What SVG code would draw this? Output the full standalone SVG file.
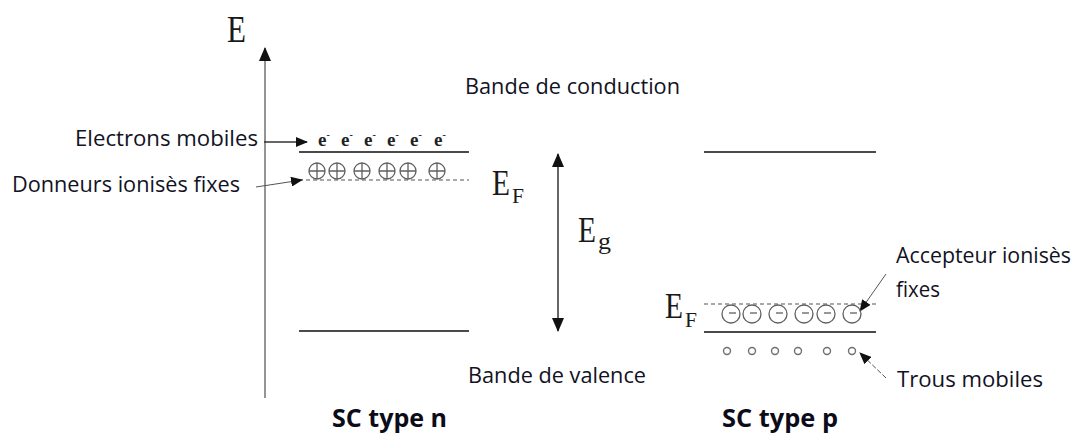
<svg xmlns="http://www.w3.org/2000/svg" width="1078" height="437" viewBox="0 0 1078 437">
  <style>
    .lbl { font-family: "Open Sans", "Noto Sans", "Liberation Sans", sans-serif; font-size: 22px; fill: #121224; }
    .title { font-family: "Open Sans", "Noto Sans", "Liberation Sans", sans-serif; font-size: 25px; font-weight: bold; fill: #0c0c18; }
    .sym { font-family: "Liberation Serif", "DejaVu Serif", serif; fill: #1a1a1a; }
    .band { stroke: #4a4a4a; stroke-width: 2; fill: none; }
    .dash { stroke: #555; stroke-width: 1.2; stroke-dasharray: 4 3; fill: none; }
    .axis { stroke: #707070; stroke-width: 1.5; fill: none; }
    .arrow { stroke: #333; stroke-width: 1.5; fill: none; }
    .thin { stroke: #555; stroke-width: 1; fill: none; }
    .ion { stroke: #606060; stroke-width: 1.3; fill: none; }
    .hole { stroke: #707070; stroke-width: 1.4; fill: none; }
    .el { font-family: "Liberation Serif", "DejaVu Serif", serif; font-size: 19px; font-weight: bold; fill: #222; text-anchor: middle; }
  </style>
  <defs>
    <marker id="head" viewBox="0 0 14 12" refX="13" refY="6" markerWidth="14" markerHeight="12" markerUnits="userSpaceOnUse" orient="auto-start-reverse">
      <path d="M0,0 L14,6 L0,12 z" fill="#111"/>
    </marker>
    <marker id="headS" viewBox="0 0 12 10" refX="11" refY="5" markerWidth="12" markerHeight="10" markerUnits="userSpaceOnUse" orient="auto">
      <path d="M0,0 L12,5 L0,10 z" fill="#111"/>
    </marker>
  </defs>

  <rect width="1078" height="437" fill="#ffffff"/>

  <!-- energy axis, band edges and pointer arrows -->
  <g id="connectors">
    <line class="axis" x1="265" y1="398" x2="265" y2="48" marker-end="url(#head)"/>
    <!-- n-type bands -->
    <line class="band" x1="299" y1="152" x2="469" y2="152"/>
    <line class="dash" x1="299" y1="180" x2="469" y2="180"/>
    <line class="band" x1="299" y1="331" x2="469" y2="331"/>
    <!-- p-type bands -->
    <line class="band" x1="704" y1="152" x2="876" y2="152"/>
    <line class="dash" x1="704" y1="304" x2="876" y2="304"/>
    <line class="band" x1="704" y1="332" x2="876" y2="332"/>
    <!-- gap arrow -->
    <line class="arrow" x1="558" y1="154" x2="558" y2="331" marker-start="url(#head)" marker-end="url(#head)"/>
    <!-- pointers -->
    <line class="arrow" x1="264" y1="142" x2="307" y2="142" marker-end="url(#headS)"/>
    <line class="thin" x1="256" y1="187" x2="302" y2="180" marker-end="url(#headS)"/>
    <line class="thin" x1="886" y1="274" x2="860" y2="311" marker-end="url(#headS)"/>
    <line class="thin" x1="886" y1="378" x2="860" y2="353" stroke-dasharray="5 2" marker-end="url(#headS)"/>
  </g>

  <!-- axis label -->
  <g id="axis-label">
    <text class="sym" x="227" y="42" font-size="38" textLength="19" lengthAdjust="spacingAndGlyphs">E</text>
  </g>

  <!-- mobile electrons in the n-type conduction band -->
  <g id="electrons">
    <text class="el" x="324" y="146">e<tspan font-size="10" dy="-8">-</tspan></text>
    <text class="el" x="347" y="146">e<tspan font-size="10" dy="-8">-</tspan></text>
    <text class="el" x="370" y="146">e<tspan font-size="10" dy="-8">-</tspan></text>
    <text class="el" x="393" y="146">e<tspan font-size="10" dy="-8">-</tspan></text>
    <text class="el" x="416" y="146">e<tspan font-size="10" dy="-8">-</tspan></text>
    <text class="el" x="440" y="146">e<tspan font-size="10" dy="-8">-</tspan></text>
  </g>

  <!-- fixed ionised donors -->
  <g id="donors" class="ion">
    <circle cx="317" cy="171" r="8"/><path d="M309,171 H325 M317,163 V179"/>
    <circle cx="337" cy="171" r="8"/><path d="M329,171 H345 M337,163 V179"/>
    <circle cx="362" cy="171" r="8"/><path d="M354,171 H370 M362,163 V179"/>
    <circle cx="387" cy="171" r="8"/><path d="M379,171 H395 M387,163 V179"/>
    <circle cx="408" cy="171" r="8"/><path d="M400,171 H416 M408,163 V179"/>
    <circle cx="437" cy="171" r="8"/><path d="M429,171 H445 M437,163 V179"/>
  </g>

  <!-- fixed ionised acceptors -->
  <g id="acceptors" class="ion">
    <circle cx="731" cy="314" r="9"/><path d="M729,313 H736"/>
    <circle cx="752" cy="314" r="9"/><path d="M750,313 H757"/>
    <circle cx="778" cy="314" r="9"/><path d="M776,313 H783"/>
    <circle cx="804" cy="314" r="9"/><path d="M802,313 H809"/>
    <circle cx="826" cy="314" r="9"/><path d="M824,313 H831"/>
    <circle cx="852" cy="314" r="9"/><path d="M850,313 H857"/>
  </g>

  <!-- mobile holes in the p-type valence band -->
  <g id="holes" class="hole">
    <circle cx="727" cy="351" r="3.5"/>
    <circle cx="752" cy="351" r="3.5"/>
    <circle cx="775" cy="351" r="3.5"/>
    <circle cx="798" cy="351" r="3.5"/>
    <circle cx="827" cy="351" r="3.5"/>
    <circle cx="852" cy="351" r="3.5"/>
  </g>

  <!-- Fermi level and gap symbols -->
  <g id="ef-n">
    <text class="sym" x="492" y="195" font-size="36" textLength="18" lengthAdjust="spacingAndGlyphs">E</text>
    <text class="sym" x="512" y="203" font-size="22" textLength="12" lengthAdjust="spacingAndGlyphs">F</text>
  </g>
  <g id="eg">
    <text class="sym" x="578" y="242" font-size="36" textLength="18" lengthAdjust="spacingAndGlyphs">E</text>
    <text class="sym" x="598" y="249" font-size="24" textLength="13" lengthAdjust="spacingAndGlyphs">g</text>
  </g>
  <g id="ef-p">
    <text class="sym" x="665" y="318" font-size="36" textLength="18" lengthAdjust="spacingAndGlyphs">E</text>
    <text class="sym" x="685" y="327" font-size="22" textLength="12" lengthAdjust="spacingAndGlyphs">F</text>
  </g>

  <!-- text labels -->
  <g id="label-conduction"><text class="lbl" x="465" y="94" textLength="215" lengthAdjust="spacingAndGlyphs">Bande de conduction</text></g>
  <g id="label-valence"><text class="lbl" x="468" y="383" textLength="178" lengthAdjust="spacingAndGlyphs">Bande de valence</text></g>
  <g id="label-electrons"><text class="lbl" x="75" y="146" textLength="183" lengthAdjust="spacingAndGlyphs">Electrons mobiles</text></g>
  <g id="label-donors"><text class="lbl" x="12" y="192" textLength="228" lengthAdjust="spacingAndGlyphs">Donneurs ionisès fixes</text></g>
  <g id="label-acceptors">
    <text class="lbl" x="896" y="263" textLength="175" lengthAdjust="spacingAndGlyphs">Accepteur ionisès</text>
    <text class="lbl" x="896" y="297" textLength="44" lengthAdjust="spacingAndGlyphs">fixes</text>
  </g>
  <g id="label-holes"><text class="lbl" x="897" y="387" textLength="146" lengthAdjust="spacingAndGlyphs">Trous mobiles</text></g>
  <g id="title-n"><text class="title" x="332" y="427" textLength="115" lengthAdjust="spacingAndGlyphs">SC type n</text></g>
  <g id="title-p"><text class="title" x="722" y="427" textLength="116" lengthAdjust="spacingAndGlyphs">SC type p</text></g>
</svg>
